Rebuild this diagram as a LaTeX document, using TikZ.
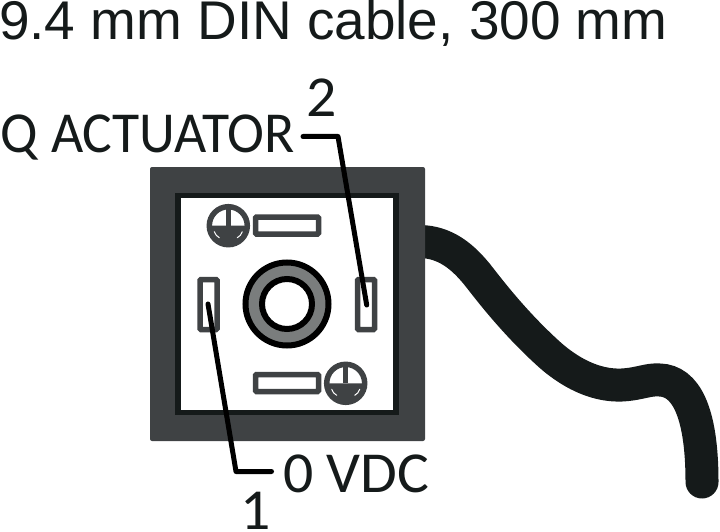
\documentclass[tikz,border=0pt]{standalone}
\usepackage{fontspec}
\setmainfont[FakeStretch=1.008]{Liberation Sans}
\newfontfamily\lblfont[FakeStretch=0.96]{Carlito}
\newfontfamily\lblwide[FakeStretch=1.03]{Carlito}
\definecolor{housing}{HTML}{3F4244}
\definecolor{ink}{HTML}{151A1A}
\definecolor{ringgray}{HTML}{7A7D7D}
\tikzset{
  label text/.style={anchor=base west,inner sep=0pt,outer sep=0pt,text=ink},
  contact/.style={draw=housing,line width=5.5pt,fill=white,rounded corners=1pt,inner sep=0pt},
  leader/.style={draw=black,line width=5pt,line cap=round,line join=round},
  screw/.pic={
    \fill[white] (0,0) circle (19);
    \fill[housing] (-19,0) -- (19,0) arc (0:180:19) -- cycle;
    \draw[housing,line width=5.5pt] (0,0) circle (19);
    \draw[housing,line width=5pt] (0,-19) -- (0,0);
    \draw[white,line width=1pt,line cap=round] (-14,6) .. controls (-13,9) and (-11.5,10.5) .. (-9,12);
    \draw[white,line width=1pt,line cap=round] (14,6) .. controls (13,9) and (11.5,10.5) .. (9,12);
  }
}
\begin{document}
\begin{tikzpicture}[x=1pt,y=-1pt]
\useasboundingbox (0,0) rectangle (720,532);
% cable
\coordinate (c0) at (420,241.5);
\coordinate (c1) at (480,278);
\coordinate (c2) at (550,355);
\coordinate (c3) at (622,385);
\coordinate (c4) at (660,380);
\coordinate (c5) at (702,482);
\draw[ink,line width=33pt,line cap=round] (c0) .. controls (445,242) and (463,256) .. (c1)
  .. controls (497,300) and (520,328) .. (c2)
  .. controls (575,377) and (600,386) .. (c3)
  .. controls (640,384) and (648,379) .. (c4)
  .. controls (685,381) and (702,410) .. (c5);
% housing
\fill[housing,rounded corners=2pt] (150,167) rectangle (425,441);
\draw[ink,line width=5.5pt,fill=white] (178,195.5) rectangle (396,412.5);
% contacts
\node[contact,minimum width=63pt,minimum height=17pt] (ctop) at (287,225.5) {};
\node[contact,minimum width=63pt,minimum height=17pt] (cbot) at (287,383) {};
\node[contact,minimum width=17pt,minimum height=50pt] (cleft) at (208.5,304.5) {};
\node[contact,minimum width=17pt,minimum height=50pt] (cright) at (366,304.5) {};
\pic at (228.3,225.7) {screw};
\pic at (345.7,383.3) {screw};
% centre ring
\node[circle,draw=black,line width=6pt,fill=ringgray,minimum size=83pt,inner sep=0pt] (ring) at (287,304) {};
\node[circle,draw=black,line width=6pt,fill=white,minimum size=50pt,inner sep=0pt] (bore) at (287,304) {};
% labels
\node[label text,font=\fontsize{54.5}{55}\selectfont] (title) at (-1,39.6) {9.4 mm DIN cable, 300 mm};
\node[label text,font=\lblfont\fontsize{58}{58}\selectfont] (qact) at (1,153) {Q ACTUATOR};
\node[label text,font=\lblwide\fontsize{58}{58}\selectfont] (two) at (306,117) {2};
\node[label text,font=\lblwide\fontsize{58}{58}\selectfont] (zero) at (283,492) {0 VDC};
\node[label text,font=\lblwide\fontsize{58}{58}\selectfont] (one) at (240,529.5) {1};
% leaders
\coordinate (l2a) at (303,136.5);
\coordinate (l2b) at (338,136.5);
\coordinate (l2c) at (366.7,305);
\coordinate (l1a) at (271.5,471.5);
\coordinate (l1b) at (236,471.5);
\coordinate (l1c) at (208,304);
\draw[leader] (l2a) -- (l2b) -- (l2c);
\draw[leader] (l1a) -- (l1b) -- (l1c);
\end{tikzpicture}
\end{document}
